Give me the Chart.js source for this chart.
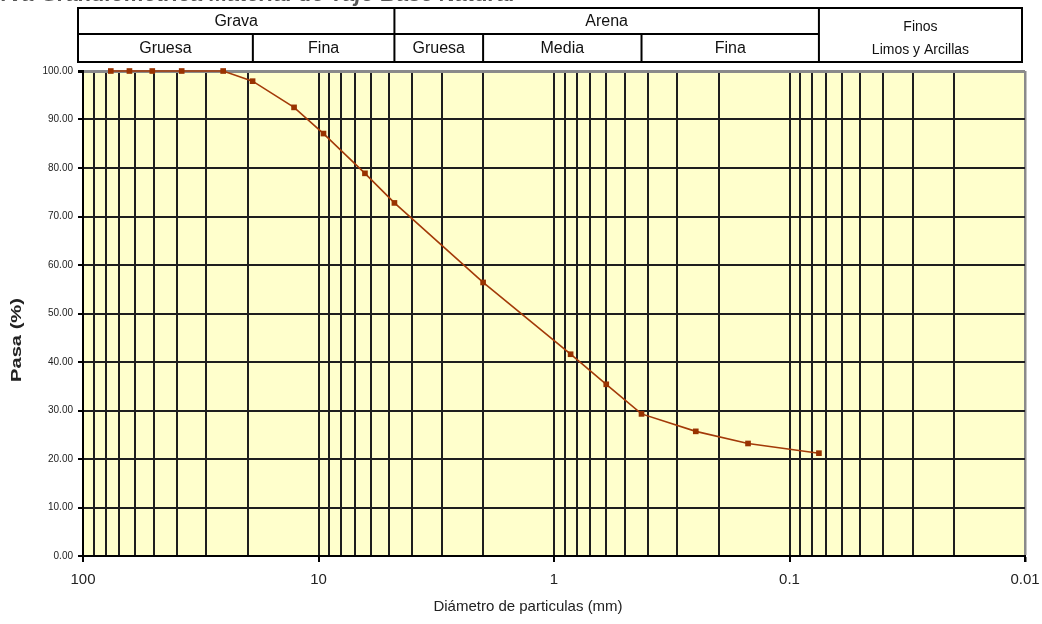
<!DOCTYPE html>
<html>
<head>
<meta charset="utf-8">
<script src="https://cdn.jsdelivr.net/npm/chart.js@4.4.1/dist/chart.umd.min.js"></script>
<style>
html, body { margin: 0; padding: 0; background: #fff; }
#wrap { position: relative; width: 1042px; height: 624px; }
</style>
</head>
<body>
<div id="wrap"><canvas id="grafico"></canvas></div>
<script>
const tamices = [76.2, 63.5, 50.8, 38.1, 25.4, 19.05, 12.7, 9.525, 6.35, 4.76, 2.0, 0.85, 0.6, 0.425, 0.25, 0.15, 0.075];
const pasa = [100, 100, 100, 100, 100, 97.9, 92.5, 87.1, 78.9, 72.8, 56.4, 41.6, 35.4, 29.3, 25.7, 23.2, 21.2];

const decadas = [100, 10, 1, 0.1, 0.01];
const etiquetasX = ['100', '10', '1', '0.1', '0.01'];

const grupos = [['Grava', 100, 4.76], ['Arena', 4.76, 0.075]];
const subgrupos = [['Gruesa', 100, 19], ['Fina', 19, 4.76], ['Gruesa', 4.76, 2], ['Media', 2, 0.425], ['Fina', 0.425, 0.075]];
const finos = ['Finos', 'Limos y Arcillas'];

const titulo = 'Curva Granulométrica Material de Tajo Base Natural';
const tituloX = 'Diámetro de particulas (mm)';
const tituloY = 'Pasa (%)';

const FUENTE = '"Liberation Sans", Arial, sans-serif';

let valoresX = [];
decadas.slice(1).forEach(d => {
    for (let k = 1; k <= 9; k++) valoresX.push(+(k * d).toPrecision(3));
});
valoresX.push(100);

const esDecada = v => decadas.some(d => Math.abs(v - d) < d * 1e-6);

const fondoPlot = {
    id: 'fondoPlot',
    beforeDraw(chart) {
        const { ctx, chartArea: a } = chart;
        ctx.save();
        ctx.fillStyle = '#FFFFCC';
        ctx.fillRect(a.left, a.top, a.right - a.left, a.bottom - a.top);
        ctx.restore();
    }
};

const textos = {
    id: 'textos',
    afterDraw(chart) {
        const { ctx, chartArea: a } = chart;
        const xs = chart.scales.x;
        const px = v => v === 100 ? a.left - 5 : v === 0.01 ? a.right - 3 : xs.getPixelForValue(v);
        const top = 8, mid = 34, bot = 62;

        ctx.save();
        ctx.fillStyle = '#555';
        ctx.font = 'italic bold 22px ' + FUENTE;
        ctx.textAlign = 'left';
        ctx.textBaseline = 'alphabetic';
        ctx.fillText(titulo, -28, 1);

        ctx.strokeStyle = '#000';
        ctx.lineWidth = 2;
        ctx.strokeRect(px(100), top, px(0.01) - px(100), bot - top);
        ctx.beginPath();
        ctx.moveTo(px(100), mid);
        ctx.lineTo(px(0.075), mid);
        grupos.forEach(g => { ctx.moveTo(px(g[2]), top); ctx.lineTo(px(g[2]), bot); });
        subgrupos.forEach(g => { ctx.moveTo(px(g[2]), mid); ctx.lineTo(px(g[2]), bot); });
        ctx.stroke();

        ctx.fillStyle = '#111';
        ctx.textAlign = 'center';
        ctx.textBaseline = 'middle';
        ctx.font = '16px ' + FUENTE;
        grupos.forEach(g => ctx.fillText(g[0], (px(g[1]) + px(g[2])) / 2, 22));
        subgrupos.forEach(g => ctx.fillText(g[0], (px(g[1]) + px(g[2])) / 2, 49));
        const cf = (px(0.075) + px(0.01)) / 2;
        ctx.font = '14px ' + FUENTE;
        ctx.fillText(finos[0], cf, 27);
        ctx.fillText(finos[1], cf, 50);

        ctx.font = '15px ' + FUENTE;
        ctx.fillStyle = '#222';
        ctx.fillText(tituloX, 528, 607);

        ctx.translate(17, 340);
        ctx.rotate(-Math.PI / 2);
        ctx.font = 'bold 14px ' + FUENTE;
        const w = ctx.measureText(tituloY).width;
        ctx.scale(84 / w, 1);
        ctx.fillText(tituloY, 0, 0);
        ctx.restore();
    }
};

new Chart(document.getElementById('grafico'), {
    type: 'line',
    data: {
        datasets: [{
            label: 'Granulometría',
            data: tamices.map((t, i) => ({ x: t, y: pasa[i] })),
            borderColor: '#A33A08',
            backgroundColor: '#993300',
            borderWidth: 1.6,
            pointStyle: 'rect',
            pointRadius: 4,
            pointBorderWidth: 0,
            tension: 0,
            fill: false,
            clip: false
        }]
    },
    options: {
        responsive: true,
        maintainAspectRatio: false,
        animation: false,
        layout: { padding: { top: 71, right: 17, left: 0, bottom: 0 } },
        plugins: { legend: { display: false }, tooltip: { enabled: false } },
        scales: {
            x: {
                type: 'logarithmic',
                reverse: true,
                min: 0.01,
                max: 100,
                afterFit: s => { s.height = 68; },
                afterBuildTicks: s => { s.ticks = valoresX.map(v => ({ value: v, major: esDecada(v) })); },
                ticks: {
                    autoSkip: false,
                    maxRotation: 0,
                    padding: 9,
                    color: '#222',
                    font: { size: 15, family: FUENTE },
                    callback: v => {
                        const i = decadas.findIndex(d => Math.abs(v - d) < d * 1e-6);
                        return i >= 0 ? etiquetasX[i] : '';
                    }
                },
                grid: {
                    color: c => c.tick && Math.abs(c.tick.value - 0.01) < 1e-6 ? '#8a8a8a' : '#1e1e1e',
                    lineWidth: c => c.tick && Math.abs(c.tick.value - 0.01) < 1e-6 ? 2.5 : 2,
                    tickLength: 6,
                    tickColor: c => c.tick && esDecada(c.tick.value) ? '#000' : 'rgba(0,0,0,0)'
                },
                border: { color: '#000', width: 2 }
            },
            y: {
                min: 0,
                max: 100,
                afterFit: s => { s.width = 83; },
                ticks: {
                    stepSize: 10,
                    padding: 5,
                    color: '#222',
                    font: { size: 10, family: FUENTE },
                    callback: v => v.toFixed(2)
                },
                grid: {
                    color: c => c.tick && c.tick.value === 100 ? '#8a8a8a' : '#1e1e1e',
                    lineWidth: c => c.tick && c.tick.value === 100 ? 3 : 2,
                    tickLength: 5,
                    tickColor: '#000'
                },
                border: { color: '#000', width: 2 }
            }
        }
    },
    plugins: [fondoPlot, textos]
});
</script>
</body>
</html>
